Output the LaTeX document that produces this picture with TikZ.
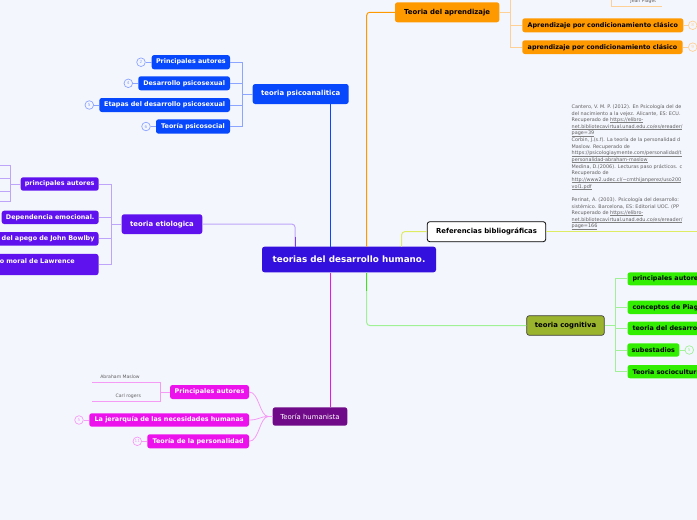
\documentclass[tikz,border=0pt]{standalone}
\usepackage{fontspec}
\setmainfont{DejaVu Sans}
\definecolor{bg}{RGB}{244,246,254}
\definecolor{cenC}{RGB}{52,16,222}
\definecolor{bluC}{RGB}{8,72,252}
\definecolor{bluL}{RGB}{140,165,255}
\definecolor{vioC}{RGB}{96,18,238}
\definecolor{vioL}{RGB}{190,165,250}
\definecolor{vioM}{RGB}{120,60,235}
\definecolor{oraC}{RGB}{255,153,0}
\definecolor{oraL}{RGB}{255,208,150}
\definecolor{magC}{RGB}{236,18,236}
\definecolor{magL}{RGB}{245,155,245}
\definecolor{humC}{RGB}{112,10,136}
\definecolor{yelL}{RGB}{222,236,100}
\definecolor{cogC}{RGB}{155,180,45}
\definecolor{grnC}{RGB}{50,238,0}
\definecolor{grnL}{RGB}{160,240,150}
\definecolor{grnM}{RGB}{60,230,20}
\definecolor{leafT}{RGB}{95,95,95}
\newcommand\myul[1]{\setbox0\hbox{#1}\rlap{\color{leafT!80}\rule[-0.9pt]{\wd0}{0.3pt}}\box0}
\tikzset{
  base/.style={rounded corners=2.5pt, inner xsep=1pt, inner ysep=0pt, align=center},
  mm/.style 2 args={minimum width=#1, minimum height=#2},
  cen/.style={base, fill=cenC, text=white, font=\bfseries\fontsize{8.8}{10}\selectfont},
  br/.style={base, font=\bfseries\fontsize{6.9}{8.2}\selectfont},
  ch/.style={base, font=\bfseries\fontsize{6.4}{7.7}\selectfont},
  badge/.style={circle, draw=#1, fill=bg, text=#1, line width=0.7pt, minimum size=8.6pt, inner sep=0pt, font=\fontsize{4.2}{5}\selectfont},
  leaf/.style={inner sep=0pt, text=leafT, font=\fontsize{4.6}{5.5}\selectfont},
  reftext/.style={inner sep=0pt, align=left, text=leafT, font=\fontsize{4.9}{6.64}\selectfont},
  mainln/.style={line width=1pt},
  subln/.style={line width=0.8pt},
}
\begin{document}
\begin{tikzpicture}[x=1pt,y=-1pt]
\useasboundingbox (0,0) rectangle (697,520);
\fill[bg] (0,0) rectangle (697,520);
\clip (0,0) rectangle (697,520);

% ---------- nodes ----------
\node[cen, mm={174}{25.6}] (c) at (349,259.5) {teorias del desarrollo humano.};

% psicoanalitica
\node[br, fill=bluC, text=white, mm={96}{20}] (psi) at (300.7,94) {teoria psicoanalitica};
\node[ch, fill=bluC, text=white, mm={78.3}{14.3}] (p1) at (190.85,62.2) {Principales autores};
\node[ch, fill=bluC, text=white, mm={91.7}{14}] (p2) at (184.15,83.3) {Desarrollo psicosexual};
\node[ch, fill=bluC, text=white, mm={130.7}{14}] (p3) at (164.65,105) {Etapas del desarrollo psicosexual};
\node[ch, fill=bluC, text=white, mm={74}{14.4}] (p4) at (193,126.5) {Teoría psicosocial};
\node[badge=bluL] (pb1) at (141,62.2) {2};
\node[badge=bluL] (pb2) at (128.3,83.3) {4};
\node[badge=bluL] (pb3) at (89.3,105) {5};
\node[badge=bluL] (pb4) at (146,126.5) {6};

% etiologica
\node[br, fill=vioC, text=white, mm={80.6}{19.7}] (eti) at (162,224.15) {teoria etiologica};
\node[ch, fill=vioC, text=white, mm={78}{13.4}] (e1) at (59.7,184) {principales autores};
\node[ch, fill=vioC, text=white, mm={97}{13.3}] (e2) at (50.2,217.35) {Dependencia emocional.};
\node[ch, fill=vioC, text=white, minimum height=13.7, text width=105, align=right, inner xsep=4pt, anchor=east] (e3) at (98.7,238.85) {del apego de John Bowlby};
\node[ch, fill=vioC, text=white, minimum height=21.3, text width=95.7, align=left, inner xsep=3pt, anchor=north east] (e4) at (98.7,253.7) {o moral de Lawrence\\ \mbox{}};

% humanista
\node[base, fill=humC, text=white, mm={74.6}{18.4}, font=\fontsize{6.9}{8.2}\selectfont] (hum) at (310,416.5) {Teoría humanista};
\node[ch, fill=magC, text=white, mm={79}{14}] (h1) at (209.5,392) {Principales autores};
\node[ch, fill=magC, text=white, mm={159.7}{13.4}] (h2) at (169.15,420) {La jerarquía de las necesidades humanas};
\node[ch, fill=magC, text=white, mm={101.7}{14}] (h3) at (198.15,441.3) {Teoría de la personalidad};
\node[badge=magL] (hb2) at (79,420) {5};
\node[badge=magL] (hb3) at (137.3,441.3) {11};
\node[leaf] (am) at (120,377) {Abraham Maslow};
\node[leaf] (cr) at (128.3,396.6) {Carl rogers};

% aprendizaje
\node[br, fill=oraC, text=black, mm={104.3}{20}] (apr) at (447.15,12.3) {Teoria del aprendizaje};
\node[ch, fill=oraC, text=black, mm={161}{14}] (a1) at (602.8,25.3) {Aprendizaje por condicionamiento clásico};
\node[ch, fill=oraC, text=black, mm={160.4}{13.7}] (a2) at (602.5,47.15) {aprendizaje por condicionamiento clásico};
\node[badge=oraL] (ab1) at (692.7,25.3) {8};
\node[badge=oraL] (ab2) at (692.7,47.15) {9};
\node[leaf] (jp) at (643.3,0.8) {Jean Piaget};

% referencias
\node[br, fill=white, draw=black, line width=0.8pt, text=black, mm={118.4}{20}] (ref) at (486.5,231.7) {Referencias bibliográficas};
\node[reftext, anchor=north west] (rt) at (571.5,104.3) {Cantero, V. M. P. (2012). En Psicología del de\\
del nacimiento a la vejez. Alicante, ES: ECU.\\
Recuperado de \myul{https://elibro-}\\
\myul{net.bibliotecavirtual.unad.edu.co/es/ereader/}\\
\myul{page=39}\\
Corbin, J.(s.f). La teoría de la personalidad d\\
Maslow. Recuperado de\\
\myul{https://psicologiaymente.com/personalidad/t}\\
\myul{personalidad-abraham-maslow}\\
Medina, D.(2006). Lecturas paso prácticos. c\\
Recuperado de\\
\myul{http://www2.udec.cl/\textasciitilde cmthijanperez/uso200}\\
\myul{vol1.pdf}\\[6.64pt]
Perinat, A. (2003). Psicología del desarrollo:\\
sistémico. Barcelona, ES: Editorial UOC. (PP\\
Recuperado de \myul{https://elibro-}\\
\myul{net.bibliotecavirtual.unad.edu.co/es/ereader/}\\
\myul{page=166}};

% cognitiva
\node[br, fill=cogC, draw=black!75, line width=0.7pt, text=black, mm={77.6}{19.6}] (cog) at (565.5,325.5) {teoria cognitiva};
\node[ch, fill=grnC, text=black, minimum height=13, inner xsep=5pt, anchor=west] (g1) at (627.3,278.8) {principales autores};
\node[ch, fill=grnC, text=black, minimum height=13.3, inner xsep=5pt, anchor=west] (g2) at (627.3,307.35) {conceptos de Piaget};
\node[ch, fill=grnC, text=black, minimum height=13.3, inner xsep=5pt, anchor=west] (g3) at (627.3,328.35) {teoria del desarrollo};
\node[ch, fill=grnC, text=black, mm={52}{13.4}] (g4) at (653.3,350) {subestadios};
\node[ch, fill=grnC, text=black, minimum height=13.3, inner xsep=5pt, anchor=west] (g5) at (627.3,371.65) {Teoria sociocultural};
\node[badge=grnL] (gb4) at (689.3,350) {5};

% ---------- coordinates ----------
\coordinate (bp) at (242.7,94);
\coordinate (be) at (111.7,224.15);
\coordinate (bl) at (10.7,184);
\coordinate (bl1) at (-5,165);
\coordinate (bl2) at (-5,178.3);
\coordinate (bl3) at (-5,191.7);
\coordinate (bl4) at (-5,201.7);
\coordinate (bh) at (160,392);
\coordinate (am1) at (92.3,382.3);
\coordinate (cr1) at (92.3,401.7);
\coordinate (ba) at (510.7,12.3);
\coordinate (batop) at (510.7,-5);
\coordinate (jp0) at (611.7,-5);
\coordinate (jp1) at (662,6.3);
\coordinate (rend) at (700,231.7);
\coordinate (bg0) at (615,325.5);

% ---------- main branches ----------
\draw[mainln, bluC] ([xshift=29.8pt]psi.south) -- ([xshift=-18.5pt]c.north);
\draw[mainln, vioL, rounded corners=3pt] (eti.east) -| ([xshift=-54pt]c.north);
\draw[mainln, vioM] ([xshift=-54pt,yshift=10pt]c.north) -- ([xshift=-54pt]c.north);
\draw[mainln, oraC, rounded corners=3pt] ([xshift=17.7pt]c.north) |- (apr.west);
\draw[mainln, yelL, rounded corners=3pt] ([xshift=52.7pt]c.north) |- (ref.west);
\draw[mainln, magC] ([xshift=-18.5pt]c.south) -- ([xshift=20.5pt]hum.north);
\draw[mainln, grnL, rounded corners=3pt] ([xshift=17.7pt]c.south) |- (cog.west);
\draw[mainln, grnM] ([xshift=17.7pt]c.south) -- ([xshift=17.7pt,yshift=-18pt]c.south);

% ---------- psicoanalitica sub ----------
\draw[subln, bluL] (psi.west) -- (bp);
\foreach \n in {p1,p2,p3,p4} \draw[subln, bluL] (\n.east) -| (bp);
\draw[subln, bluL] (pb1) -- (p1.west);
\draw[subln, bluL] (pb2) -- (p2.west);
\draw[subln, bluL] (pb3) -- (p3.west);
\draw[subln, bluL] (pb4) -- (p4.west);

% ---------- etiologica sub ----------
\draw[subln, vioL] (eti.west) -- (be);
\draw[subln, vioL] (e1.east) -| (be);
\draw[subln, vioL] (e2.east) -| (be);
\draw[subln, vioL] (e3.east) -| (be);
\draw[subln, vioL] (e4.east) -| (be);
\draw[subln, vioL] (e1.west) -- (bl);
\draw[subln, vioL] (bl1) -| (bl4 -| bl) -- (bl4);
\draw[subln, vioL] (bl2) -- (bl2 -| bl);
\draw[subln, vioL] (bl3) -- (bl3 -| bl);

% ---------- humanista sub ----------
\draw[subln, magL] (hum.west) -- ++(-4,0) .. controls +(-9,0) and +(10,0) .. (h1.east);
\draw[subln, magL] (hum.west) -- ++(-4,0) .. controls +(-9,0) and +(10,0) .. (h2.east);
\draw[subln, magL] (hum.west) -- ++(-4,0) .. controls +(-9,0) and +(10,0) .. (h3.east);
\draw[subln, magL] (hb2) -- (h2.west);
\draw[subln, magL] (hb3) -- (h3.west);
\draw[subln, magL] (h1.west) -- (bh);
\draw[subln, magL] (am1) -| (bh);
\draw[subln, magL] (cr1) -| (bh);

% ---------- aprendizaje sub ----------
\draw[subln, oraL] (apr.east) -- (ba);
\draw[subln, oraL] (batop) -- (ba);
\draw[subln, oraL] (a1.west) -| (ba);
\draw[subln, oraL] (a2.west) -| (ba);
\draw[subln, oraL] (a1.east) -- (ab1);
\draw[subln, oraL] (a2.east) -- (ab2);
\draw[subln, oraL] (jp0) |- (jp1);

% ---------- referencias sub ----------
\draw[subln, yelL] (ref.east) -- (rend);

% ---------- cognitiva sub ----------
\draw[subln, grnL] (cog.east) -- (bg0);
\foreach \n in {g1,g2,g3,g5} \draw[subln, grnL] (\n.west) -| (bg0);
\draw[subln, grnL] (g4.west) -| (bg0);
\draw[subln, grnL] (g4.east) -- (gb4);
\end{tikzpicture}
\end{document}
